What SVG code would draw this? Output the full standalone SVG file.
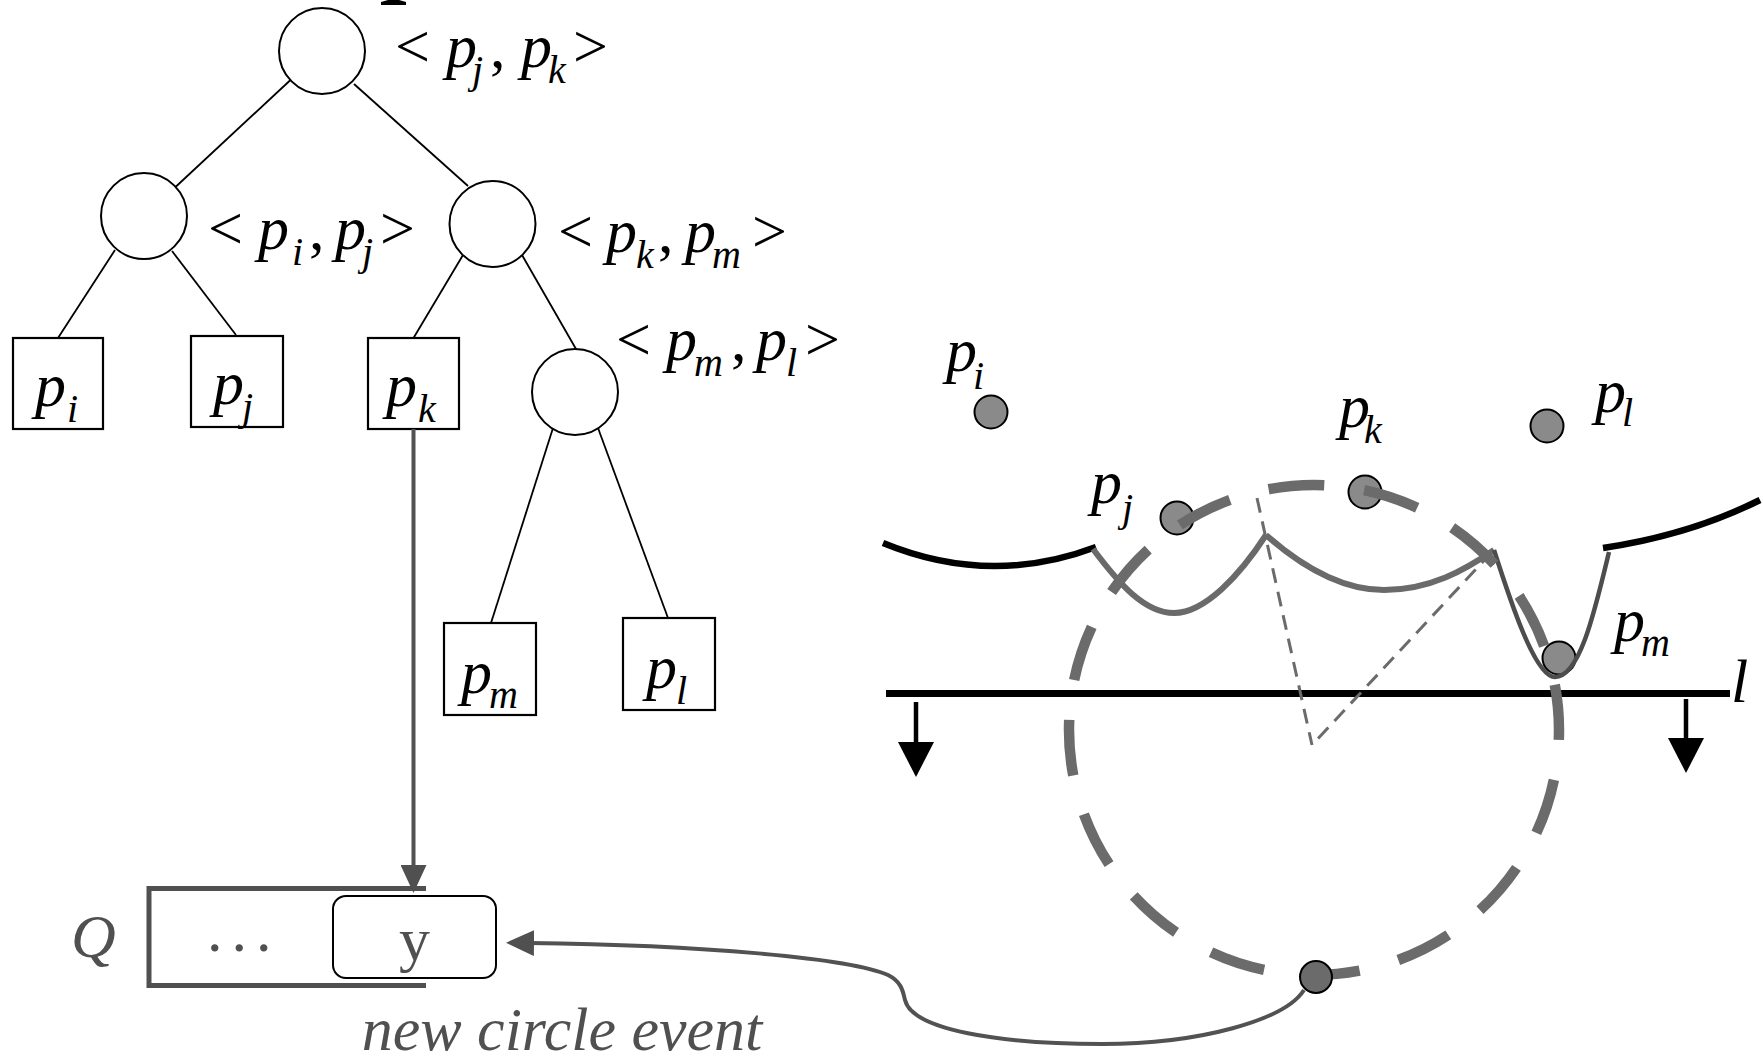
<svg xmlns="http://www.w3.org/2000/svg" width="1763" height="1060" viewBox="0 0 1763 1060">
<defs>
<style>
.edge{stroke:#000;stroke-width:1.8;fill:none}
.inner{fill:#fff;stroke:#000;stroke-width:2}
.leaf{fill:#fff;stroke:#000;stroke-width:2.2}
text{font-family:"Liberation Serif","Times New Roman",serif;font-size:62px;fill:#000}
.it{font-style:italic}
.sub{font-style:italic;font-size:40px}
.gtxt{fill:#505050}
.site{fill:#8a8a8a;stroke:#000;stroke-width:2}
.beach{fill:none;stroke:#000;stroke-width:6.5}
.arc{fill:none;stroke:#6a6a6a;stroke-width:6}
.garrow{fill:none;stroke:#525252;stroke-width:4}
</style>
<marker id="ahB" markerUnits="userSpaceOnUse" viewBox="0 0 35 36" markerWidth="35" markerHeight="36" refX="5" refY="18" orient="auto"><path d="M0,0 L35,18 L0,36 Z" fill="#000"/></marker>
<marker id="ahG" markerUnits="userSpaceOnUse" viewBox="0 0 28 26" markerWidth="28" markerHeight="26" refX="5" refY="13" orient="auto"><path d="M0,0 L28,13 L0,26 Z" fill="#505050"/></marker>
</defs>
<rect width="1763" height="1060" fill="#fff"/>

<!-- cut-off fragment at top -->
<path d="M381,5 L406,5 L406,2 L399,0 L388,0 L381,2 Z" fill="#000"/>

<!-- tree connectors -->
<g id="tree-edges">
<line class="edge" x1="290.5" y1="80" x2="175.5" y2="187"/>
<line class="edge" x1="354" y1="84" x2="468" y2="186"/>
<line class="edge" x1="115" y1="250" x2="58" y2="338"/>
<line class="edge" x1="172" y1="251" x2="236" y2="335"/>
<line class="edge" x1="463" y1="255" x2="413.5" y2="338"/>
<line class="edge" x1="522" y1="255" x2="576" y2="349"/>
<line class="edge" x1="553" y1="428" x2="491" y2="623"/>
<line class="edge" x1="598" y1="428" x2="668" y2="618"/>
</g>

<!-- tree nodes -->
<g id="root">
<circle class="inner" cx="322" cy="51" r="43"/>
<text y="67"><tspan x="395">&lt;</tspan><tspan class="it" x="446">p</tspan><tspan class="sub" x="472" dy="16">j</tspan><tspan x="490" dy="-16">,</tspan><tspan class="it" x="521">p</tspan><tspan class="sub" x="548" dy="16">k</tspan><tspan x="573" dy="-16">&gt;</tspan></text>
</g>
<g id="node-pi-pj">
<circle class="inner" cx="144" cy="216" r="43"/>
<text y="249"><tspan x="208">&lt;</tspan><tspan class="it" x="258">p</tspan><tspan class="sub" x="292" dy="16">i</tspan><tspan x="309" dy="-16">,</tspan><tspan class="it" x="335">p</tspan><tspan class="sub" x="362" dy="16">j</tspan><tspan x="380" dy="-16">&gt;</tspan></text>
</g>
<g id="node-pk-pm">
<circle class="inner" cx="492.5" cy="224" r="43"/>
<text y="252"><tspan x="558">&lt;</tspan><tspan class="it" x="606">p</tspan><tspan class="sub" x="636" dy="16">k</tspan><tspan x="658" dy="-16">,</tspan><tspan class="it" x="685">p</tspan><tspan class="sub" x="712" dy="16">m</tspan><tspan x="752" dy="-16">&gt;</tspan></text>
</g>
<g id="node-pm-pl">
<circle class="inner" cx="575" cy="392" r="43"/>
<text y="360"><tspan x="616">&lt;</tspan><tspan class="it" x="666">p</tspan><tspan class="sub" x="694" dy="16">m</tspan><tspan x="731" dy="-16">,</tspan><tspan class="it" x="756">p</tspan><tspan class="sub" x="786" dy="16">l</tspan><tspan x="805" dy="-16">&gt;</tspan></text>
</g>
<g id="leaf-pi">
<rect class="leaf" x="13" y="338" width="90" height="91"/>
<text y="406"><tspan class="it" x="35">p</tspan><tspan class="sub" x="67" dy="16">i</tspan></text>
</g>
<g id="leaf-pj">
<rect class="leaf" x="191" y="336" width="92" height="91"/>
<text y="404"><tspan class="it" x="213">p</tspan><tspan class="sub" x="242" dy="16">j</tspan></text>
</g>
<g id="leaf-pk">
<rect class="leaf" x="368" y="338" width="91" height="91"/>
<text y="406"><tspan class="it" x="386">p</tspan><tspan class="sub" x="418" dy="16">k</tspan></text>
</g>
<g id="leaf-pm">
<rect class="leaf" x="444" y="623" width="92" height="92"/>
<text y="693"><tspan class="it" x="461">p</tspan><tspan class="sub" x="489" dy="15">m</tspan></text>
</g>
<g id="leaf-pl">
<rect class="leaf" x="623" y="618" width="92" height="92"/>
<text y="688"><tspan class="it" x="646">p</tspan><tspan class="sub" x="676" dy="16">l</tspan></text>
</g>

<!-- event queue -->
<g id="queue">
<text class="it gtxt" x="71" y="957">Q</text>
<path d="M426,888.5 H149 V985.5 H426" fill="none" stroke="#505050" stroke-width="5"/>
<text class="gtxt" x="207" y="951" letter-spacing="9">...</text>
</g>
<g id="event-y">
<rect x="333" y="896" width="163" height="82" rx="13" fill="#fff" stroke="#000" stroke-width="2"/>
<text class="gtxt" x="399" y="960">y</text>
</g>
<text class="it gtxt" x="562" y="1050" text-anchor="middle" font-size="64">new circle event</text>

<!-- right: sweep line, beach line, sites -->
<g id="sweep">
<line x1="886" y1="693.5" x2="1730" y2="693.5" stroke="#000" stroke-width="7"/>
<text class="it" x="1731" y="702">l</text>
<line x1="916" y1="702" x2="916" y2="747" stroke="#000" stroke-width="4.5" marker-end="url(#ahB)"/>
<line x1="1686" y1="699" x2="1686" y2="743" stroke="#000" stroke-width="4.5" marker-end="url(#ahB)"/>
</g>

<g id="sites">
<circle class="site" cx="991" cy="412" r="16.5"/>
<circle class="site" cx="1177" cy="518" r="16.5"/>
<circle class="site" cx="1365" cy="492" r="16.5"/>
<circle class="site" cx="1547" cy="426" r="16.5"/>
<circle class="site" cx="1559" cy="658" r="16.5"/>
</g>
<g id="site-labels">
<text y="371"><tspan class="it" x="946">p</tspan><tspan class="sub" x="973" dy="18">i</tspan></text>
<text y="503"><tspan class="it" x="1091">p</tspan><tspan class="sub" x="1122" dy="18">j</tspan></text>
<text y="427"><tspan class="it" x="1339">p</tspan><tspan class="sub" x="1364" dy="16">k</tspan></text>
<text y="412"><tspan class="it" x="1595">p</tspan><tspan class="sub" x="1622" dy="14">l</tspan></text>
<text y="641"><tspan class="it" x="1614">p</tspan><tspan class="sub" x="1641" dy="15">m</tspan></text>
</g>

<g id="beachline">
<path class="beach" d="M883,543 Q990,587 1096,547"/>
<path class="beach" d="M1603,548 Q1690,535 1760,500"/>
<path class="arc" d="M1093,549 C1120,585 1145,613 1174,613 C1205,613 1240,575 1266,535"/>
<path class="arc" d="M1266,535 C1300,565 1340,590 1384,590 C1430,590 1465,570 1494,550"/>
<path d="M1494,550 C1510,600 1535,677 1555,677 C1580,677 1595,610 1609,552" fill="none" stroke="#4d4d4d" stroke-width="4.5"/>
</g>

<g id="voronoi-edges">
<line x1="1257" y1="498" x2="1312" y2="745" stroke="#6b6b6b" stroke-width="3" stroke-dasharray="15 9"/>
<line x1="1492" y1="552" x2="1312" y2="745" stroke="#6b6b6b" stroke-width="3" stroke-dasharray="15 9"/>
</g>

<circle id="empty-circle" cx="1314" cy="730" r="245" fill="none" stroke="#6b6b6b" stroke-width="10.5" stroke-dasharray="56 40.2" stroke-dashoffset="46"/>

<!-- connectors -->
<g id="connectors">
<line class="garrow" x1="413.5" y1="429" x2="413.5" y2="870" marker-end="url(#ahG)"/>
<path class="garrow" d="M1304,990 C1285,1020 1200,1044 1102,1044 C1000,1044 912,1030 905,1000 C903,992 902,982 888,975 C850,958 700,945 529,943" marker-end="url(#ahG)"/>
</g>

<g id="circle-event">
<circle cx="1316" cy="977" r="16" fill="#6b6b6b" stroke="#000" stroke-width="2"/>
</g>
</svg>
